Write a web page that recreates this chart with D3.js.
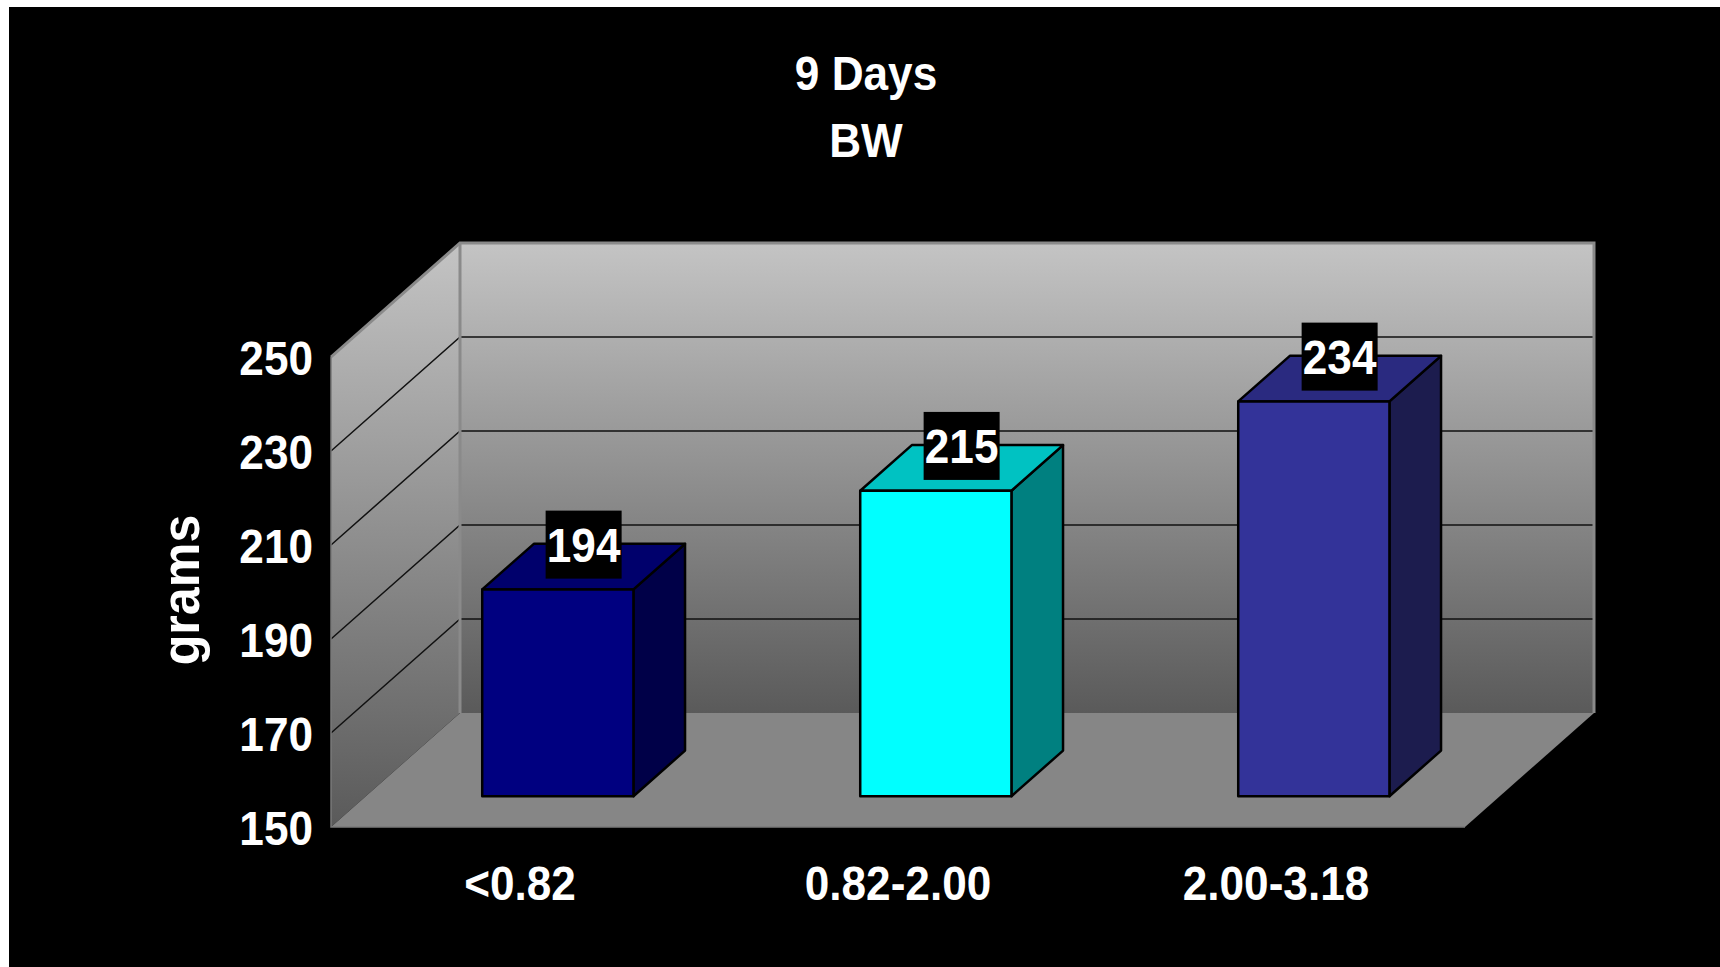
<!DOCTYPE html>
<html>
<head>
<meta charset="utf-8">
<script src="https://cdn.jsdelivr.net/npm/d3@7"></script>
<style>
  html, body { margin: 0; padding: 0; background: #fff; }
  svg { display: block; }
  text { font-family: "Liberation Sans", Arial, sans-serif; font-weight: bold; fill: #fff; }
</style>
</head>
<body>
<svg id="chart" width="1720" height="967"></svg>
<script>
// Chart data
const categories = ["<0.82", "0.82-2.00", "2.00-3.18"];
const values = [194, 215, 234];
const yTicks = [150, 170, 190, 210, 230, 250];
const titleLines = ["9 Days", "BW"];
const yTitle = "grams";

// Bar fills: front, side, top
const frontColors = ["#000080", "#00ffff", "#333399"];
const sideColors = ["#000048", "#008080", "#1c1c4e"];
const topColors = ["#00006c", "#00c2c2", "#2a2a80"];

const W = 1720, H = 967;
const svg = d3.select("#chart");

// Frame: white edge strip top/left, black canvas
svg.append("rect").attr("width", W).attr("height", H).attr("fill", "#fff");
svg.append("rect").attr("x", 9).attr("y", 7).attr("width", W - 9).attr("height", H - 7).attr("fill", "#000");

// Plot box (front plane) and depth offset
const x0 = 331, x1 = 1465;
const vMin = 150, vMax = 250;
const x = d3.scaleBand().domain(categories).range([x0 + 3, x1 + 3]).paddingInner(0.6).paddingOuter(0.3);
const y = d3.scaleLinear().domain([vMin, vMax]).range([827, 357]);
const DX = 129, DY = 114;
const P = (px, v, d) => [px + DX * d, y(v) - DY * d];

const defs = svg.append("defs");
function grad(id, y1, y2) {
  const g = defs.append("linearGradient").attr("id", id)
    .attr("gradientUnits", "userSpaceOnUse")
    .attr("x1", 0).attr("x2", 0).attr("y1", y1).attr("y2", y2);
  g.append("stop").attr("offset", 0).attr("stop-color", "#c4c4c4");
  g.append("stop").attr("offset", 1).attr("stop-color", "#5a5a5a");
}
grad("wallBack", P(0, vMax, 1)[1], P(0, vMin, 1)[1]);
grad("wallSide", P(0, vMax, 1)[1], P(0, vMin, 0)[1]);

const line = d3.line();
const walls = svg.append("g");

// Back wall
walls.append("path")
  .attr("d", line([P(x0, vMin, 1), P(x0, vMax, 1), P(x1, vMax, 1), P(x1, vMin, 1)]) + "Z")
  .attr("fill", "url(#wallBack)");
// Side wall
walls.append("path")
  .attr("d", line([P(x0, vMin, 0), P(x0, vMax, 0), P(x0, vMax, 1), P(x0, vMin, 1)]) + "Z")
  .attr("fill", "url(#wallSide)");
// Floor
walls.append("path")
  .attr("d", line([P(x0, vMin, 0), P(x1, vMin, 0), P(x1, vMin, 1), P(x0, vMin, 1)]) + "Z")
  .attr("fill", "#868686");

// Gridlines on side and back walls
const grid = svg.append("g").attr("stroke", "#111").attr("stroke-width", 1.5).attr("fill", "none");
yTicks.filter(t => t > vMin && t < vMax).forEach(t => {
  grid.append("path").attr("d", line([P(x0, t, 0), P(x0, t, 1), P(x1, t, 1)]));
});

// Wall edges
const edges = svg.append("g").attr("fill", "none").attr("stroke", "#8a8a8a");
edges.append("path").attr("stroke-width", 3)
  .attr("d", line([P(x0, vMax, 0), P(x0, vMax, 1), P(x1, vMax, 1), P(x1, vMin, 1)]));
edges.append("path").attr("stroke-width", 3)
  .attr("d", line([P(x0, vMax, 1), P(x0, vMin, 1)]));
edges.append("path").attr("stroke-width", 1.5).attr("stroke", "#7a7a7a")
  .attr("d", line([P(x0, vMax, 0), P(x0, vMin, 0), P(x1, vMin, 0)]));

// 3D bars
const d0 = 0.27, d1 = 0.67;
const bars = svg.append("g").attr("stroke", "#000").attr("stroke-width", 2.5).attr("stroke-linejoin", "round");
categories.forEach((c, i) => {
  const v = values[i];
  const xl = x(c), xr = x(c) + x.bandwidth();
  const front = [P(xl, vMin, d0), P(xl, v, d0), P(xr, v, d0), P(xr, vMin, d0)];
  const side = [P(xr, vMin, d0), P(xr, v, d0), P(xr, v, d1), P(xr, vMin, d1)];
  const top = [P(xl, v, d0), P(xl, v, d1), P(xr, v, d1), P(xr, v, d0)];
  bars.append("path").attr("d", line(side) + "Z").attr("fill", sideColors[i]);
  bars.append("path").attr("d", line(top) + "Z").attr("fill", topColors[i]);
  bars.append("path").attr("d", line(front) + "Z").attr("fill", frontColors[i]);
});

// Value labels on black boxes
const SX = 0.92;
const labels = svg.append("g");
categories.forEach((c, i) => {
  const v = values[i];
  const [cx, cy] = P(x(c) + x.bandwidth() / 2, v, (d0 + d1) / 2);
  const by = cy - 22;
  labels.append("rect").attr("x", cx - 38).attr("y", by - 34).attr("width", 76).attr("height", 68).attr("fill", "#000");
  labels.append("text")
    .attr("transform", `translate(${cx},${by + 17}) scale(${SX},1)`)
    .attr("text-anchor", "middle").attr("font-size", 48)
    .text(v);
});

// Y axis tick labels
const yAxisG = svg.append("g").attr("transform", `translate(${x0 - 18},0)`)
  .call(d3.axisLeft(y).tickValues(yTicks).tickSize(0).tickPadding(0).tickFormat(d3.format("d")));
yAxisG.select(".domain").remove();
yAxisG.selectAll(".tick text")
  .attr("font-size", 48).attr("font-family", null).attr("fill", "#fff").attr("dy", "0.36em")
  .attr("transform", `scale(${SX},1)`).attr("x", 0);

// Category labels
const xAxisG = svg.append("g").attr("transform", `translate(-3,${y(vMin) + 56})`)
  .call(d3.axisBottom(x).tickSize(0).tickPadding(0));
xAxisG.select(".domain").remove();
xAxisG.selectAll(".tick text")
  .attr("font-size", 48).attr("font-family", null).attr("fill", "#fff").attr("dy", "0.36em")
  .attr("transform", `scale(${SX},1)`);
xAxisG.selectAll(".tick").each(function() {
  const t = d3.select(this);
  const tx = +t.attr("transform").match(/translate\(([^,]+)/)[1];
  t.attr("transform", `translate(${tx},0)`);
});

// Y axis title
svg.append("text")
  .attr("transform", `translate(199,590) rotate(-90) scale(0.93,1)`)
  .attr("text-anchor", "middle").attr("font-size", 54)
  .text(yTitle);

// Chart title
titleLines.forEach((t, i) => {
  svg.append("text")
    .attr("transform", `translate(866,${90 + i * 67}) scale(${SX},1)`)
    .attr("text-anchor", "middle").attr("font-size", 48)
    .text(t);
});
</script>
</body>
</html>
